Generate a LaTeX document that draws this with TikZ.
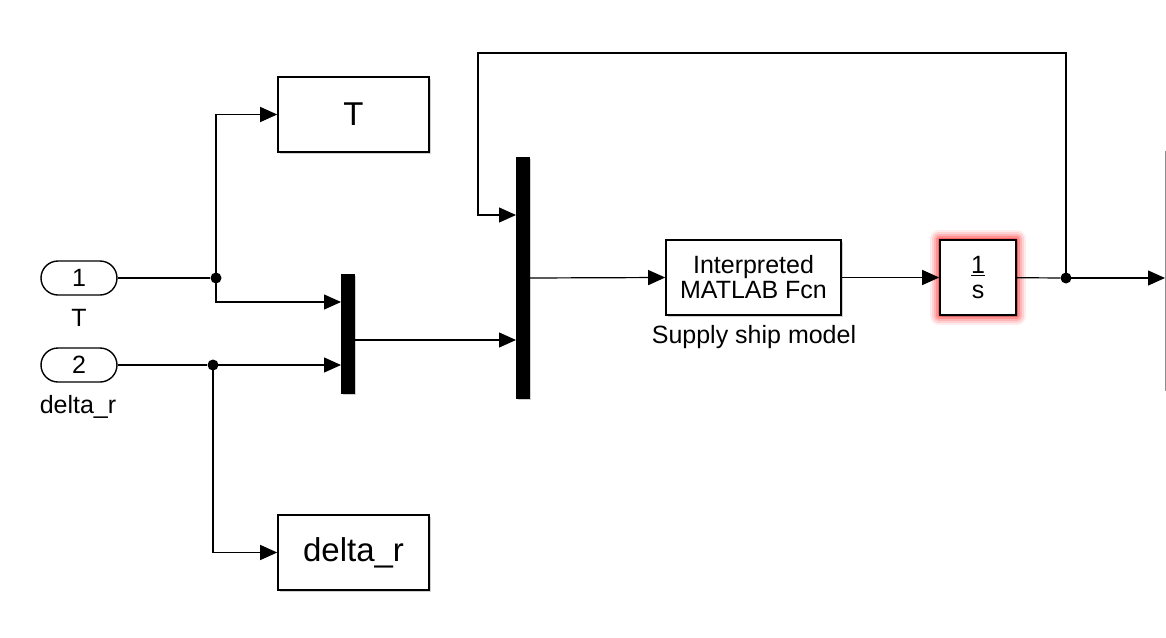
\documentclass[tikz,border=0pt]{standalone}
\usepackage{fontspec}
\setmainfont{Liberation Sans}
\usetikzlibrary{arrows.meta,shadows,calc}
\pgfdeclarelayer{background}
\pgfsetlayers{background,main}
\begin{document}
\begin{tikzpicture}[x=1pt,y=-1pt,
  wire/.style={line width=1.2pt},
  sig/.style={line width=1.2pt,-{Triangle[length=17pt,width=15pt]}},
  shad/.style={drop shadow={shadow xshift=2pt,shadow yshift=-2pt,opacity=0.3,fill=black!60}},
  blk/.style={draw,line width=1.6pt,fill=white,inner sep=0pt,shad},
  port/.style={draw,line width=1.4pt,fill=white,minimum width=76pt,minimum height=34pt,rounded corners=17pt,inner sep=0pt,font=\fontsize{25}{27}\selectfont},
  muxbar/.style={fill=black,draw=black,minimum width=13pt,inner sep=0pt,shad},
  dot/.style={circle,fill=black,minimum size=11pt,inner sep=0pt},
  lbl/.style={font=\fontsize{25}{27}\selectfont},
  bigtxt/.style={font=\fontsize{33}{36}\selectfont}
]
\useasboundingbox (0,0) rectangle (1166,637);

% inports
\node[port] (in1) at (79,278) {1};
\node[lbl] (in1l) at (79,318) {T};
\node[port] (in2) at (79,365) {2};
\node[lbl] (in2l) at (78,407) {delta\_r};

% goto / display blocks
\node[blk,bigtxt,minimum width=151pt,minimum height=75pt] (Tb) at (353.5,114.5) {T};
\node[blk,bigtxt,minimum width=151pt,minimum height=75pt] (db) at (353.5,552.5) {delta\_r};

% muxes
\node[muxbar,minimum height=119pt] (mux1) at (347.5,333.5) {};
\node[muxbar,minimum height=241pt] (mux2) at (522.5,277.5) {};
\coordinate (m1in1) at (341,302);
\coordinate (m1in2) at (341,365);
\coordinate (m1out) at (354,340);
\coordinate (m2in1) at (516,215);
\coordinate (m2in2) at (516,340);
\coordinate (m2out) at (529,278);

% function block
\node[blk,minimum width=175pt,minimum height=75pt,align=center,font=\fontsize{25}{25}\selectfont] (interp) at (753.5,277.5) {Interpreted\\MATLAB Fcn};
\node[lbl] (interpl) at (754,337) {Supply ship model};

% integrator
\node[blk,minimum width=76pt,minimum height=75pt,align=center,font=\fontsize{25}{25}\selectfont] (integ) at (978,277.5) {\underline{1}\\s};
\begin{pgfonlayer}{background}
  \foreach \w/\o in {18/0.08,14/0.1,10/0.14,6/0.2,3/0.3}
    \draw[red,line width=\w pt,opacity=\o,line join=round] (integ.north west) rectangle (integ.south east);
\end{pgfonlayer}

% partial block on the right
\node[draw=black!45,line width=1.5pt,minimum width=100pt,minimum height=238pt,anchor=west,inner sep=0pt] (outb) at (1165,271) {};

% junctions
\node[dot] (j1) at (216,278) {};
\node[dot] (j3) at (213,365) {};
\node[dot] (j2) at (1066,278) {};
\coordinate (fbtop) at (478,53);

% connectors
\draw[wire] (in1) -- (j1);
\draw[sig] (j1.center) |- (Tb.west);
\draw[sig] (j1.center) |- (m1in1);
\draw[wire] (in2) -- (j3);
\draw[sig] (j3.center) -- (m1in2);
\draw[sig] (j3.center) |- (db.west);
\draw[sig] (m1out) -- (m2in2);
\draw[sig] (m2out) -- (interp.west);
\draw[sig] (interp) -- (integ);
\draw[wire] (integ) -- (j2);
\draw[sig] (j2.center) -- (j2 -| outb.west);
\draw[sig] (j2.center) |- (fbtop) |- (m2in1);
\end{tikzpicture}
\end{document}
